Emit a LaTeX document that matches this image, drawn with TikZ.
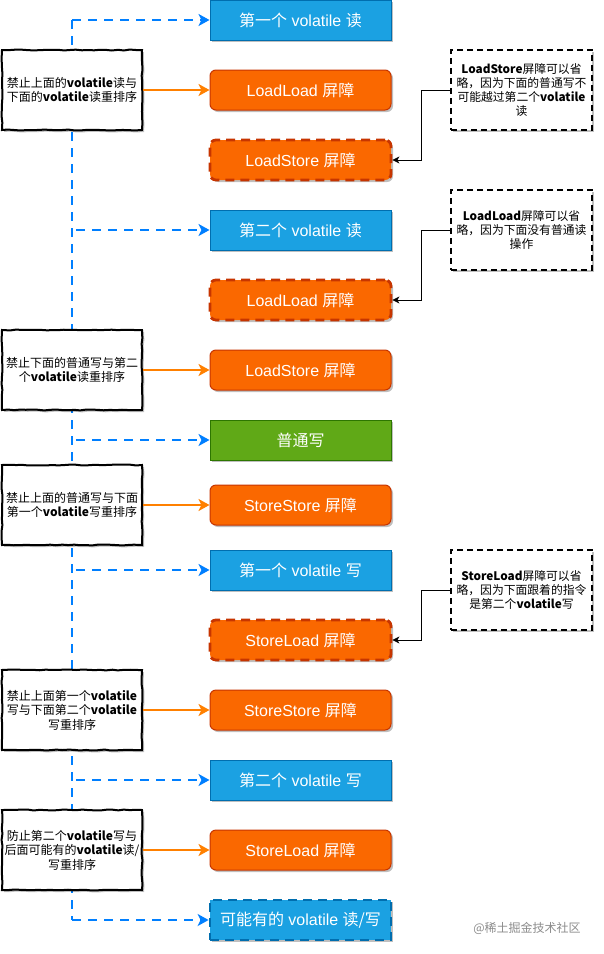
\documentclass[tikz,border=0pt]{standalone}
\usepackage{fontspec}
\setmainfont{Liberation Sans}
\newfontfamily\cjk{Noto Sans CJK SC}
\newcommand\zh[1]{{\cjk #1}}
\usetikzlibrary{arrows.meta,shadows,decorations.pathmorphing}
\definecolor{bfill}{HTML}{1BA1E2}\definecolor{bdraw}{HTML}{006EAF}
\definecolor{ofill}{HTML}{FA6800}\definecolor{odraw}{HTML}{C73500}
\definecolor{gfill}{HTML}{60A917}\definecolor{gdraw}{HTML}{2D7600}
\definecolor{spinec}{HTML}{007FFF}\definecolor{oarrow}{HTML}{FF8000}
\tikzset{
  op/.style={rectangle, minimum width=181pt, minimum height=40pt, inner sep=0pt,
    text=white, font=\fontsize{16}{19}\selectfont,
    drop shadow={shadow xshift=2pt, shadow yshift=-2pt, opacity=0.25, fill=black}},
  blueop/.style={op, fill=bfill, draw=bdraw, line width=1pt},
  greenop/.style={op, fill=gfill, draw=gdraw, line width=1pt},
  barrier/.style={op, fill=ofill, draw=odraw, line width=1pt, rounded corners=6pt},
  optbarrier/.style={barrier, line width=2.8pt, dash pattern=on 9pt off 6pt},
  optblue/.style={blueop, line width=2.8pt, dash pattern=on 9pt off 6pt},
  rulebox/.style={rectangle, draw=black, fill=white, line width=2pt,
    minimum width=140pt, minimum height=80pt, inner sep=0pt, align=center,
    font=\cjk\fontsize{12}{14.5}\selectfont,
    decorate, decoration={random steps, segment length=6pt, amplitude=0.5pt},
    drop shadow={shadow xshift=2pt, shadow yshift=-2pt, opacity=0.25, fill=black}},
  notebox/.style={rectangle, draw=black, fill=white, line width=1.6pt,
    dash pattern=on 6pt off 4pt,
    minimum width=141pt, minimum height=80pt, inner sep=0pt, align=center,
    font=\cjk\fontsize{11.8}{14}\selectfont,
    drop shadow={shadow xshift=2pt, shadow yshift=-2pt, opacity=0.25, fill=black}},
  spinel/.style={draw=spinec, line width=2.5pt, dash pattern=on 9pt off 7pt},
  spinea/.style={spinel, -{Stealth[length=11pt,width=12pt,inset=3pt]}},
  oarr/.style={draw=oarrow, line width=2pt, -{Stealth[length=11pt,width=12pt,inset=3pt]}},
  narr/.style={draw=black, line width=0.8pt, -{Stealth[length=7pt,width=7pt,inset=2pt]}},
}
\begin{document}
\begin{tikzpicture}[x=1pt,y=-1pt]
\fill[white] (0,0) rectangle (603,954);
\useasboundingbox (0,0) rectangle (603,954);

% spine
\coordinate (s0) at (72,20);
\coordinate (s1) at (72,920);
\draw[spinel] (s0) -- (s1);

% right column
\node[blueop] (b1) at (300.5,20) {\zh{第一个} volatile \zh{读}};
\node[barrier] (b2) at (300.5,90) {LoadLoad \zh{屏障}};
\node[optbarrier] (b3) at (300.5,160) {LoadStore \zh{屏障}};
\node[blueop] (b4) at (300.5,230) {\zh{第二个} volatile \zh{读}};
\node[optbarrier] (b5) at (300.5,300) {LoadLoad \zh{屏障}};
\node[barrier] (b6) at (300.5,370) {LoadStore \zh{屏障}};
\node[greenop] (b7) at (300.5,440) {\zh{普通写}};
\node[barrier] (b8) at (300.5,505) {StoreStore \zh{屏障}};
\node[blueop] (b9) at (300.5,570) {\zh{第一个} volatile \zh{写}};
\node[optbarrier] (b10) at (300.5,640) {StoreLoad \zh{屏障}};
\node[barrier] (b11) at (300.5,710) {StoreStore \zh{屏障}};
\node[blueop] (b12) at (300.5,780) {\zh{第二个} volatile \zh{写}};
\node[barrier] (b13) at (300.5,850) {StoreLoad \zh{屏障}};
\node[optblue] (b14) at (300.5,920) {\zh{可能有的} volatile \zh{读/写}};

% left rule boxes
\node[rulebox] (r1) at (72,90) {禁止上面的\textbf{volatile}读与\\下面的\textbf{volatile}读重排序};
\node[rulebox] (r2) at (72,370) {禁止下面的普通写与第二\\个\textbf{volatile}读重排序};
\node[rulebox] (r3) at (72,505) {禁止上面的普通写与下面\\第一个\textbf{volatile}写重排序};
\node[rulebox] (r4) at (72,710) {禁止上面第一个\textbf{volatile}\\写与下面第二个\textbf{volatile}\\写重排序};
\node[rulebox] (r5) at (72,850) {防止第二个\textbf{volatile}写与\\后面可能有的\textbf{volatile}读/\\写重排序};

% notes
\node[notebox] (n1) at (521.5,90) {\textbf{LoadStore}屏障可以省\\略，因为下面的普通写不\\可能越过第二个\textbf{volatile}\\读};
\node[notebox] (n2) at (521.5,230) {\textbf{LoadLoad}屏障可以省\\略，因为下面没有普通读\\操作};
\node[notebox] (n3) at (521.5,590) {\textbf{StoreLoad}屏障可以省\\略，因为下面跟着的指令\\是第二个\textbf{volatile}写};

% spine branches
\coordinate (j4) at (72,230);
\coordinate (j7) at (72,440);
\coordinate (j9) at (72,570);
\coordinate (j12) at (72,780);
\draw[spinea] (s0) -- (b1.west);
\draw[spinea, shorten <=4pt] (j4) -- (b4.west);
\draw[spinea, shorten <=4pt] (j7) -- (b7.west);
\draw[spinea, shorten <=4pt] (j9) -- (b9.west);
\draw[spinea, shorten <=4pt] (j12) -- (b12.west);
\draw[spinea] (s1) -- (b14.west);

% orange arrows
\draw[oarr] (r1.east) -- (b2.west);
\draw[oarr] (r2.east) -- (b6.west);
\draw[oarr] (r3.east) -- (b8.west);
\draw[oarr] (r4.east) -- (b11.west);
\draw[oarr] (r5.east) -- (b13.west);

% note connectors
\draw[narr] (n1.west) -- ++(-29,0) |- (b3.east);
\draw[narr] (n2.west) -- ++(-29,0) |- (b5.east);
\draw[narr] (n3.west) -- ++(-29,0) |- (b10.east);

% watermark
\node[text=black!45, font=\cjk\fontsize{12}{14}\selectfont] (wm) at (527,928) {@稀土掘金技术社区};
\end{tikzpicture}
\end{document}
